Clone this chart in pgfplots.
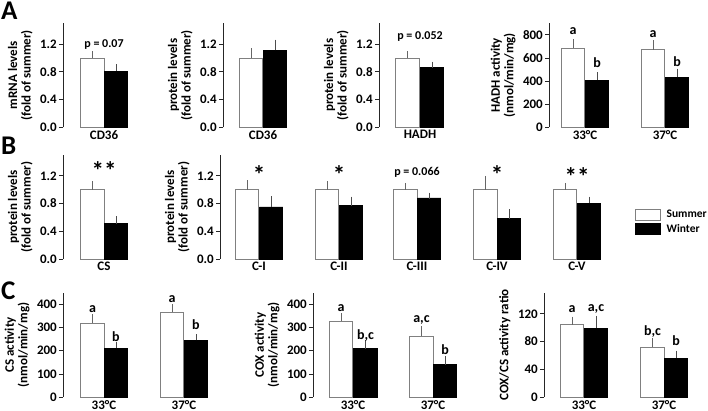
\documentclass[border=0pt]{standalone}
\usepackage{fontspec}
\setmainfont{Carlito}
\usepackage{pgfplots}
\pgfplotsset{compat=1.18}
\newcommand\ff{\fontsize{13}{13.5}\selectfont\bfseries}
\newcommand\fab{\fontsize{14}{14}\selectfont\bfseries}
\newcommand\fp{\fontsize{12}{12}\selectfont\bfseries}
\newcommand\fl{\fontsize{11.5}{11.5}\selectfont\bfseries}
\newcommand\fa{\fontsize{25}{25}\selectfont\bfseries}
\pgfplotsset{
  panel/.style={
    scale only axis, height=104pt, ymin=0,
    enlargelimits=false,
    axis y line*=left, axis x line*=bottom,
    x axis line style={draw=none},
    y axis line style={-, draw=black!85, line width=0.7pt},
    xtick style={draw=none},
    ytick style={draw=black!85, line width=0.7pt},
    tick align=outside, major tick length=4pt,
    ybar, bar width=23.5,
    tick label style={font=\ff},
    yticklabel style={inner sep=2pt},
    xticklabel style={inner sep=0pt, yshift=1pt},
    label style={font=\ff, align=center},
    ylabel style={yshift=2pt},
    /pgf/number format/assume math mode=true,
    anchor=south west,
    clip=false,
  },
  wbar/.style={bar shift=0, fill=white, draw=black!50, line width=0.8pt, forget plot,
    error bars/y dir=plus, error bars/y explicit,
    error bars/error bar style={draw=black!60, line width=0.8pt},
    error bars/error mark options={draw=black!60, line width=0.8pt, mark size=3pt}},
  bbar/.style={bar shift=0, fill=black, draw=black, line width=0.8pt, forget plot,
    error bars/y dir=plus, error bars/y explicit,
    error bars/error bar style={draw=black!70, line width=0.8pt},
    error bars/error mark options={draw=black!70, line width=0.8pt, mark size=3pt}},
  fold/.style={ymax=1.5, ytick={0,0.4,0.8,1.2},
    yticklabel style={/pgf/number format/fixed, /pgf/number format/fixed zerofill, /pgf/number format/precision=1}},
}
\begin{document}
\begin{tikzpicture}
\useasboundingbox (0pt,0pt) rectangle (708pt,411pt);
\tikzset{ann/.style={font=\fab, inner sep=0pt}, pv/.style={font=\fp, inner sep=0pt}, ast/.style={font=\fa, inner sep=0pt, anchor=north}}
% ---------------- Row A ----------------
\begin{axis}[panel, fold, at={(63pt,283.7pt)}, width=77pt, xmin=63, xmax=140,
  xtick={104}, xticklabels={CD36}, ylabel={mRNA levels\\(fold of summer)}]
\addplot[wbar] coordinates {(92.5,1.00) +- (0,0.05)};
\addplot[bbar] coordinates {(116,0.81) +- (0,0.055)};
\node[pv] at (axis cs:104,1.20) {p = 0.07};
\end{axis}
\begin{axis}[panel, fold, at={(223pt,283.7pt)}, width=77pt, xmin=223, xmax=300,
  xtick={263}, xticklabels={CD36}, ylabel={protein levels\\(fold of summer)}]
\addplot[wbar] coordinates {(251,1.00) +- (0,0.10)};
\addplot[bbar] coordinates {(275,1.11) +- (0,0.11)};
\end{axis}
\begin{axis}[panel, fold, at={(379pt,283.7pt)}, width=77pt, xmin=379, xmax=456,
  xtick={420}, xticklabels={HADH}, ylabel={protein levels\\(fold of summer)}]
\addplot[wbar] coordinates {(407.5,1.00) +- (0,0.05)};
\addplot[bbar] coordinates {(432,0.86) +- (0,0.045)};
\node[pv] at (axis cs:420,1.31) {p = 0.052};
\end{axis}
\begin{axis}[panel, at={(549pt,283.7pt)}, width=151pt, xmin=549, xmax=700,
  ymax=900, ytick={0,200,400,600,800},
  xtick={585,665}, xticklabels={33°C,37°C}, ylabel={HADH activity\\(nmol/min/mg)}]
\addplot[wbar] coordinates {(573,685) +- (0,50) (653,670) +- (0,58)};
\addplot[bbar] coordinates {(597,409) +- (0,43) (677,432) +- (0,49)};
\node[ann] at (axis cs:573,836) {a};
\node[ann] at (axis cs:597,556) {b};
\node[ann] at (axis cs:653,805) {a};
\node[ann] at (axis cs:677,568) {b};
\end{axis}
% ---------------- Row B ----------------
\begin{axis}[panel, fold, at={(63pt,152pt)}, width=77pt, xmin=63, xmax=140,
  xtick={104}, xticklabels={CS}, ylabel={protein levels\\(fold of summer)}]
\addplot[wbar] coordinates {(92.5,1.00) +- (0,0.08)};
\addplot[bbar] coordinates {(116,0.51) +- (0,0.063)};
\node[ast] at (axis cs:104,1.41) {**};
\end{axis}
\begin{axis}[panel, fold, at={(220pt,152pt)}, width=480pt, xmin=220, xmax=700,
  xtick={259,339,417,497,577}, xticklabels={C-I,C-II,C-III,C-IV,C-V},
  ylabel={protein levels\\(fold of summer)},
  legend style={draw=none, fill=none, at={(axis description cs:0.8646,0.49)}, anchor=north west,
    font=\fl, row sep=1pt, inner sep=0pt, cells={anchor=west}}]
\addplot[wbar] coordinates {(247,1.00) +- (0,0.09) (327,1.00) +- (0,0.08) (405.5,1.00) +- (0,0.055) (485.5,1.00) +- (0,0.157) (565,1.00) +- (0,0.055)};
\addplot[bbar] coordinates {(271,0.75) +- (0,0.115) (351,0.77) +- (0,0.085) (429,0.88) +- (0,0.035) (509,0.58) +- (0,0.095) (589,0.805) +- (0,0.05)};
\addlegendimage{legend image code/.code={\draw[fill=white,draw=black!50,line width=0.8pt] (0pt,-5.5pt) rectangle (25pt,5.5pt); \path[draw=none,fill=none] (25pt,0pt) rectangle (29pt,0.1pt);}}
\addlegendentry{Summer}
\addlegendimage{legend image code/.code={\draw[fill=black,draw=black,line width=0.8pt] (0pt,-5.5pt) rectangle (25pt,5.5pt); \path[draw=none,fill=none] (25pt,0pt) rectangle (29pt,0.1pt);}}
\addlegendentry{Winter}
\node[ast] at (axis cs:259,1.35) {*};
\node[ast] at (axis cs:339,1.35) {*};
\node[pv] at (axis cs:417,1.255) {p = 0.066};
\node[ast] at (axis cs:497,1.35) {*};
\node[ast] at (axis cs:577,1.32) {**};
\end{axis}
% ---------------- Row C ----------------
\begin{axis}[panel, at={(63pt,14pt)}, width=157pt, xmin=63, xmax=220,
  ymax=450, ytick={0,100,200,300,400},
  xtick={104,184}, xticklabels={33°C,37°C}, ylabel={CS activity\\(nmol/min/mg)}]
\addplot[wbar] coordinates {(92.5,320) +- (0,25) (172,368) +- (0,20)};
\addplot[bbar] coordinates {(116,212) +- (0,14) (196,245) +- (0,14)};
\node[ann] at (axis cs:92.5,381) {a};
\node[ann] at (axis cs:116,260) {b};
\node[ann] at (axis cs:172,424) {a};
\node[ann] at (axis cs:196,312) {b};
\end{axis}
\begin{axis}[panel, at={(313pt,14pt)}, width=157pt, xmin=313, xmax=470,
  ymax=450, ytick={0,100,200,300,400},
  xtick={353,433}, xticklabels={33°C,37°C}, ylabel={COX activity\\(nmol/min/mg)}]
\addplot[wbar] coordinates {(341,328) +- (0,21) (421.5,263) +- (0,30)};
\addplot[bbar] coordinates {(365.5,209) +- (0,26) (445,140) +- (0,23)};
\node[ann] at (axis cs:341,385) {a};
\node[ann] at (axis cs:365.5,264) {b,c};
\node[ann] at (axis cs:421.5,333) {a,c};
\node[ann] at (axis cs:445,203) {b};
\end{axis}
\begin{axis}[panel, at={(544pt,14pt)}, width=156pt, xmin=544, xmax=700,
  ymax=150, ytick={0,40,80,120},
  xtick={584,664}, xticklabels={33°C,37°C}, ylabel={COX/CS activity ratio}]
\addplot[wbar] coordinates {(572,104) +- (0,7.7) (652.5,72) +- (0,9)};
\addplot[bbar] coordinates {(596,99.4) +- (0,13.4) (676,56) +- (0,6.7)};
\node[ann] at (axis cs:572,127) {a};
\node[ann] at (axis cs:596,127) {a,c};
\node[ann] at (axis cs:652.5,95) {b,c};
\node[ann] at (axis cs:676,82) {b};
\end{axis}
% panel letters
\node[font=\fontsize{27}{27}\selectfont\bfseries, anchor=north west, inner sep=0pt] at (1pt,409.5pt) {A};
\node[font=\fontsize{27}{27}\selectfont\bfseries, anchor=north west, inner sep=0pt] at (1pt,274pt) {B};
\node[font=\fontsize{27}{27}\selectfont\bfseries, anchor=north west, inner sep=0pt] at (1pt,129pt) {C};
\end{tikzpicture}
\end{document}
